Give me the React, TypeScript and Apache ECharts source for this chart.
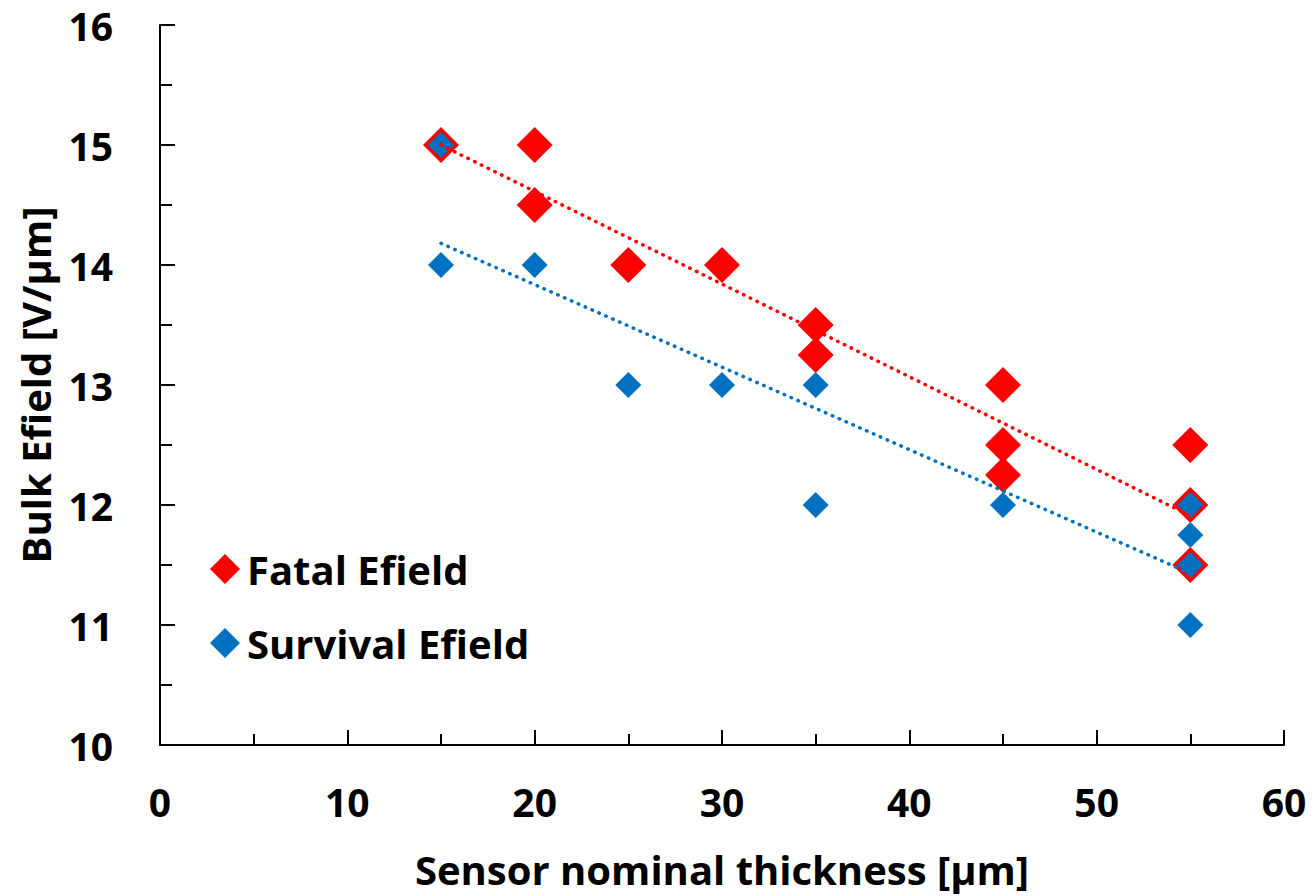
import React, { useEffect, useRef } from "react";
import * as echarts from "echarts";

const fatalX = [15, 20, 20, 25, 30, 35, 35, 45, 45, 45, 55, 55, 55];
const fatalY = [15, 15, 14.5, 14, 14, 13.5, 13.25, 13, 12.5, 12.25, 12.5, 12, 11.5];
const survivalX = [15, 15, 20, 25, 30, 35, 35, 45, 55, 55, 55, 55];
const survivalY = [15, 14, 14, 13, 13, 13, 12, 12, 12, 11.75, 11.5, 11];
const fatalTrendX = [15, 55];
const fatalTrendY = [15.0, 11.91];
const survivalTrendX = [15, 55];
const survivalTrendY = [14.18, 11.43];

const FONT = "Open Sans";
const RED = "#ff0000";
const BLUE = "#0070c0";

const pairs = (xs: number[], ys: number[]) => xs.map((x, i) => [x, ys[i]]);

export default function App() {
  const ref = useRef<HTMLDivElement>(null);
  useEffect(() => {
    const chart = echarts.init(ref.current!, null, { renderer: "svg" });
    const axisLabel = { color: "#000", fontFamily: FONT, fontWeight: "bold" as const, fontSize: 39 };
    chart.setOption({
      animation: false,
      backgroundColor: "#fff",
      grid: { left: 160, right: 28, top: 25, bottom: 151 },
      legend: {
        orient: "vertical",
        left: 205,
        top: 544,
        itemGap: 34,
        itemWidth: 30,
        itemHeight: 30,
        data: [
          { name: "Fatal Efield", icon: "diamond" },
          { name: "Survival Efield", icon: "diamond" },
        ],
        textStyle: { color: "#000", fontFamily: FONT, fontWeight: "bold", fontSize: 40, padding: [0, 0, 0, 2] },
      },
      xAxis: {
        type: "value",
        min: 0,
        max: 60,
        interval: 10,
        name: "Sensor nominal thickness [µm]",
        nameLocation: "middle",
        nameGap: 104,
        nameTextStyle: { color: "#000", fontFamily: FONT, fontWeight: "bold", fontSize: 40 },
        axisLine: { show: true, lineStyle: { color: "#000", width: 2 } },
        axisTick: { show: true, inside: true, length: 15, lineStyle: { color: "#000", width: 2 } },
        minorTick: { show: true, splitNumber: 2, length: 11, lineStyle: { color: "#000", width: 2 } },
        splitLine: { show: false },
        axisLabel: { ...axisLabel, margin: 37 },
      },
      yAxis: {
        type: "value",
        min: 10,
        max: 16,
        interval: 1,
        name: "Bulk Efield [V/µm]",
        nameLocation: "middle",
        nameGap: 105,
        nameTextStyle: { color: "#000", fontFamily: FONT, fontWeight: "bold", fontSize: 40 },
        axisLine: { show: true, lineStyle: { color: "#000", width: 2 } },
        axisTick: { show: true, inside: true, length: 15, lineStyle: { color: "#000", width: 2 } },
        minorTick: { show: true, splitNumber: 2, length: 12, lineStyle: { color: "#000", width: 2 } },
        splitLine: { show: false },
        axisLabel: { ...axisLabel, margin: 47 },
      },
      series: [
        {
          name: "Fatal Efield",
          type: "scatter",
          symbol: "diamond",
          symbolSize: 36,
          itemStyle: { color: RED, opacity: 1 },
          data: pairs(fatalX, fatalY),
          z: 2,
        },
        {
          name: "Survival Efield",
          type: "scatter",
          symbol: "diamond",
          symbolSize: 26,
          itemStyle: { color: BLUE, opacity: 1 },
          data: pairs(survivalX, survivalY),
          z: 3,
        },
        {
          name: "Fatal trend",
          type: "line",
          showSymbol: false,
          symbol: "none",
          data: pairs(fatalTrendX, fatalTrendY),
          lineStyle: { color: RED, width: 3.5, type: [0.5, 7], cap: "round" },
          z: 4,
          silent: true,
        },
        {
          name: "Survival trend",
          type: "line",
          showSymbol: false,
          symbol: "none",
          data: pairs(survivalTrendX, survivalTrendY),
          lineStyle: { color: BLUE, width: 3.5, type: [0.5, 7], cap: "round" },
          z: 4,
          silent: true,
        },
      ],
    });
    return () => chart.dispose();
  }, []);
  return <div ref={ref} style={{ width: 1312, height: 896, position: "absolute", left: 0, top: 0 }} />;
}
